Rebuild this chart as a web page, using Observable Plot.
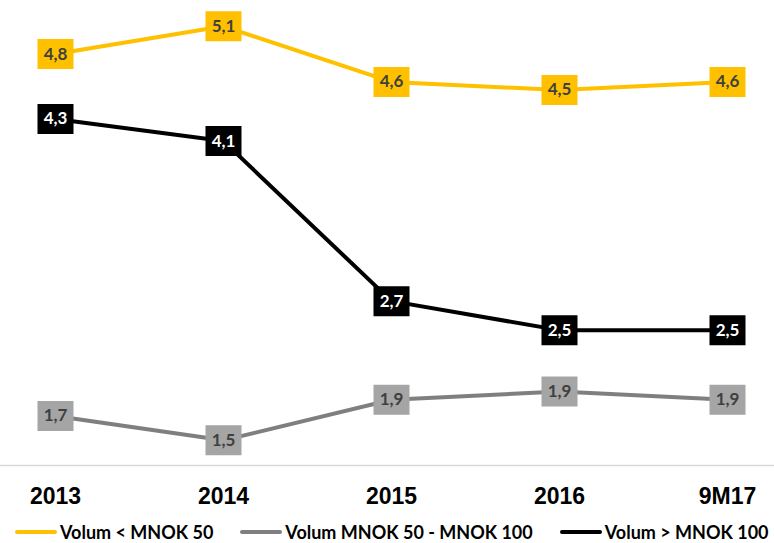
<!DOCTYPE html>
<html>
<head>
<meta charset="utf-8">
<script src="https://cdn.jsdelivr.net/npm/d3@7"></script>
<script src="https://cdn.jsdelivr.net/npm/@observablehq/plot@0.6"></script>
<style>
  html, body { margin: 0; padding: 0; background: #fff; overflow: hidden; width: 774px; height: 543px; }
  #chart svg { display: block; }
  #legend { display: flex; padding-left: 15px; padding-top: 6px; font-family: Lato, "Noto Sans", sans-serif; font-weight: bold; font-size: 18px; line-height: 16px; color: #000; white-space: nowrap; }
  .item { display: flex; align-items: center; margin-right: 27px; }
  .sw { display: inline-block; width: 42px; height: 4px; border-radius: 2px; margin-right: 3px; }
</style>
</head>
<body>
<div id="chart"></div>
<div id="legend"></div>
<script>
const categories = ["2013", "2014", "2015", "2016", "9M17"];
const seriesNames = ["Volum < MNOK 50", "Volum MNOK 50 - MNOK 100", "Volum > MNOK 100"];
const volumSmall = [4.84, 5.08, 4.60, 4.53, 4.60];
const volumMid = [1.72, 1.51, 1.86, 1.93, 1.86];
const volumLarge = [4.28, 4.09, 2.71, 2.46, 2.46];
const lineColors = ["#FFC000", "#7F7F7F", "#000000"];
const boxColors = ["#FFC000", "#A5A5A5", "#000000"];
const textColors = ["#404040", "#404040", "#FFFFFF"];

const seriesValues = [volumSmall, volumMid, volumLarge];
const rows = seriesValues.map((vals, s) =>
  vals.map((v, i) => ({cat: categories[i], value: v, s}))
);

const box = {draw(context) { context.rect(-18, -15, 36, 30); }};
const fmt = v => v.toFixed(1).replace(".", ",");

const marks = [
  Plot.ruleY([1.293], {stroke: "#D9D9D9", strokeWidth: 1.5, insetLeft: -54, insetRight: -47})
];
rows.forEach((r, s) => {
  marks.push(Plot.line(r, {x: "cat", y: "value", stroke: lineColors[s], strokeWidth: 4}));
});
rows.forEach((r, s) => {
  marks.push(Plot.dot(r, {x: "cat", y: "value", symbol: box, fill: boxColors[s], stroke: "none", r: 1}));
  marks.push(Plot.text(r, {x: "cat", y: "value", text: d => fmt(d.value), fill: textColors[s], fontSize: 17, fontWeight: "bold", fontFamily: "Lato, 'Noto Sans', sans-serif"}));
});
marks.push(Plot.axisX({tickSize: 0, tickPadding: 22, fontSize: 23, fontWeight: "bold", fontFamily: "'Liberation Sans', Arial, sans-serif", fill: "#000", label: null}));

const chart = Plot.plot({
  width: 774,
  height: 518,
  marginLeft: 54,
  marginRight: 47,
  marginTop: 0,
  marginBottom: 53,
  x: {type: "point", domain: categories, padding: 0, label: null},
  y: {domain: [1.293, 5.302], axis: null},
  marks
});
document.getElementById("chart").appendChild(chart);

const legend = document.getElementById("legend");
seriesNames.forEach((name, s) => {
  const item = document.createElement("div");
  item.className = "item";
  const sw = document.createElement("span");
  sw.className = "sw";
  sw.style.background = lineColors[s];
  item.appendChild(sw);
  const t = document.createElement("span");
  t.textContent = name;
  item.appendChild(t);
  legend.appendChild(item);
});
</script>
</body>
</html>
